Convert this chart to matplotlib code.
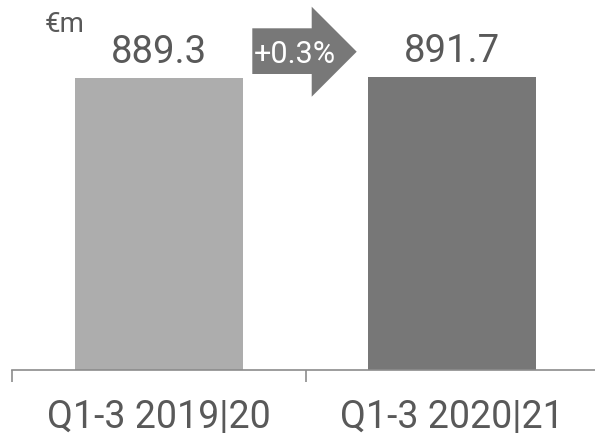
import matplotlib.pyplot as plt
from matplotlib.patches import Polygon

categories = ["Q1-3 2019|20", "Q1-3 2020|21"]
values = [889.3, 891.7]
value_labels = ["889.3", "891.7"]
change_label = "+0.3%"
unit_label = "€m"

bar_colors = ["#adadad", "#777777"]
text_color = "#595959"
axis_color = "#8c8c8c"

plt.rcParams['font.family'] = ['Roboto', 'DejaVu Sans']

W, H = 595, 440
fig = plt.figure(figsize=(W / 100, H / 100), dpi=100)
ax = fig.add_axes([12 / W, 70 / H, 587 / W, 328.4 / H])

x = range(len(categories))
bars = ax.bar(x, values, width=0.572, color=bar_colors)
ax.set_xlim(-0.5, 1.5)
ax.set_ylim(0, 1000)

for b, lab in zip(bars, value_labels):
    ax.annotate(lab, (b.get_x() + b.get_width() / 2, b.get_height()),
                xytext=(0, 11), textcoords="offset points",
                ha="center", va="baseline", fontsize=27.5, color=text_color)

# axis: boundary ticks, labels at category centres
for s in ["left", "right", "top"]:
    ax.spines[s].set_visible(False)
ax.spines["bottom"].set_color(axis_color)
ax.spines["bottom"].set_linewidth(1.2)
ax.set_yticks([])
ax.set_xticks([-0.5, 0.5, 1.5])
ax.set_xticklabels([])
ax.tick_params(axis="x", which="major", length=8.6, width=1.2, color=axis_color)
ax.set_xticks(list(x), minor=True)
ax.set_xticklabels(categories, minor=True)
ax.tick_params(axis="x", which="minor", length=0, pad=21, labelsize=27,
               labelcolor=text_color)

# unit label
fig.text(45 / W, (H - 32) / H, unit_label, ha="left", va="baseline",
         fontsize=20, color=text_color)

# change arrow (pixel coordinates, top-left origin)
pts = [(252.3, 28.3), (311.7, 28.3), (311.7, 6.7), (356.7, 51.7),
       (311.7, 96.7), (311.7, 74), (252.3, 74)]
arrow = Polygon([(px / W, 1 - py / H) for px, py in pts], closed=True,
                transform=fig.transFigure, facecolor="#787878", edgecolor="none")
fig.patches.append(arrow)
fig.text(295 / W, (H - 63.3) / H, change_label, ha="center", va="baseline",
         fontsize=22, color="white")

fig.savefig("out.png", dpi=100)
